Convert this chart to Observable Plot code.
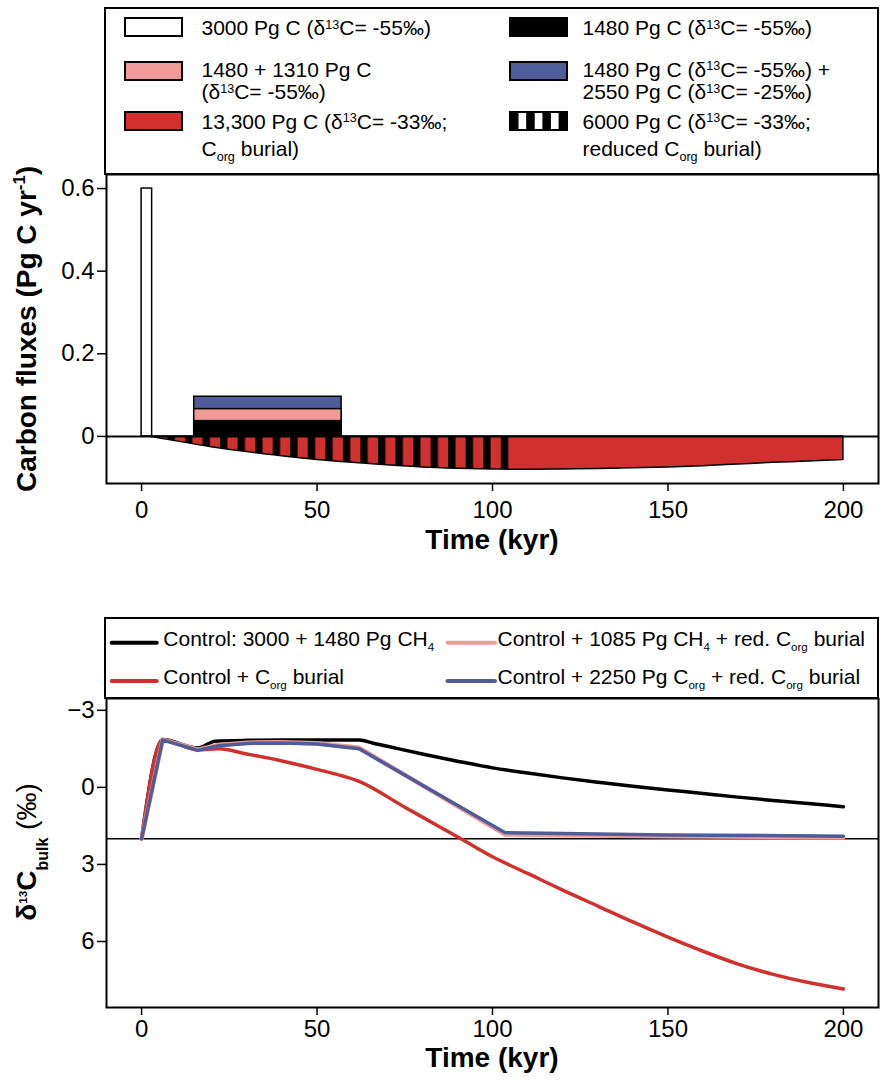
<!DOCTYPE html>
<html>
<head>
<meta charset="utf-8">
<script src="https://cdn.jsdelivr.net/npm/d3@7"></script>
<script src="https://cdn.jsdelivr.net/npm/@observablehq/plot@0.6"></script>
<style>
  body { margin: 0; background: #fff; }
  #wrap { position: relative; width: 883px; height: 1080px; overflow: hidden; background: #fff; }
  #wrap svg { position: absolute; left: 0; }
</style>
</head>
<body>
<div id="wrap"></div>
<script>
// ---------------- DATA ----------------
const xTicks = [0, 50, 100, 150, 200];

// Panel A: carbon fluxes (Pg C / yr) vs time (kyr)
const pulseStart = 0, pulseEnd = 3, pulseFlux = 0.6;           // 3000 Pg C pulse
const sustainedStart = 15, sustainedEnd = 57;                    // sustained release window
const sustainedLabels = ["1480 + 2550 Pg C", "1480 + 1310 Pg C", "1480 Pg C"];
const sustainedFlux = [0.096, 0.066, 0.037];
const burialTime = [2, 10, 20, 30, 40, 50, 60, 70, 80, 90, 100, 105, 110, 120, 130, 140, 150, 160, 170, 180, 190, 200];
const burialFlux = [0, -0.012, -0.026, -0.038, -0.048, -0.057, -0.064, -0.070, -0.075, -0.078, -0.080, -0.0805, -0.081, -0.080, -0.079, -0.077, -0.075, -0.072, -0.068, -0.064, -0.061, -0.057];
const reducedBurialEnd = 105;
const yTicksA = [0, 0.2, 0.4, 0.6];

// Panel B: bulk d13C (permil) vs time (kyr)
const controlT = [0, 6, 16, 21, 30, 40, 50, 62, 66, 70, 80, 90, 100, 110, 120, 130, 140, 150, 160, 170, 180, 190, 200];
const controlV = [2.0, -1.86, -1.53, -1.80, -1.83, -1.84, -1.84, -1.84, -1.72, -1.60, -1.30, -1.02, -0.76, -0.56, -0.37, -0.20, -0.04, 0.10, 0.24, 0.38, 0.51, 0.63, 0.75];
const burialT = [0, 6, 16, 22, 30, 40, 50, 62, 75, 85, 91, 100, 110, 120, 130, 140, 150, 160, 170, 180, 190, 200];
const burialV = [2.0, -1.85, -1.46, -1.50, -1.30, -1.03, -0.70, -0.23, 0.77, 1.54, 2.0, 2.7, 3.35, 4.0, 4.62, 5.24, 5.83, 6.38, 6.88, 7.28, 7.6, 7.85];
const ch4T = [0, 6, 16, 22, 30, 40, 50, 62, 103.5, 120, 150, 200];
const ch4V = [2.0, -1.86, -1.47, -1.65, -1.74, -1.76, -1.72, -1.54, 1.83, 1.86, 1.90, 1.94];
const corgT = [0, 6, 16, 22, 30, 40, 50, 62, 103.5, 120, 150, 200];
const corgV = [2.0, -1.85, -1.44, -1.62, -1.71, -1.73, -1.69, -1.50, 1.76, 1.80, 1.85, 1.90];
const initialD13C = 2;
const yTicksB = [-3, 0, 3, 6];

// Legend texts
const legendA = [
  ["3000 Pg C (δ^{13}C= -55‰)"],
  ["1480 + 1310 Pg C", "(δ^{13}C= -55‰)"],
  ["13,300 Pg C (δ^{13}C= -33‰;", "C_{org} burial)"],
  ["1480 Pg C (δ^{13}C= -55‰)"],
  ["1480 Pg C (δ^{13}C= -55‰) +", "2550 Pg C (δ^{13}C= -25‰)"],
  ["6000 Pg C (δ^{13}C= -33‰;", "reduced C_{org} burial)"]
];
const legendB = [
  "Control: 3000 + 1480 Pg CH_{4}",
  "Control + 1085 Pg CH_{4} + red. C_{org} burial",
  "Control + C_{org} burial",
  "Control + 2250 Pg C_{org} + red. C_{org} burial"
];

// ---------------- STYLE ----------------
const FONT = '"Liberation Sans", Arial, Helvetica, sans-serif';
const RED = "#d0312f", PINK = "#f09b99", BLUE = "#4f5c98", BLACK = "#000000";
const sustainedFill = [BLUE, PINK, BLACK];

const wrap = document.getElementById("wrap");

function rich(sel, str, opt = {}) {
  const supS = opt.supSize || 0.6, supR = opt.supRaise || 0.3;
  const subS = opt.subSize || 0.6, subL = opt.subLower || 0.25;
  const base = opt.size;
  const parts = str.split(/(\^\{[^}]*\}|_\{[^}]*\})/).filter(s => s.length);
  let cur = 0;
  for (const p of parts) {
    let txt = p, target = 0, size = base, weight = null;
    if (p.startsWith("^{")) { txt = p.slice(2, -1); target = -supR * base; size = supS * base; }
    else if (p.startsWith("_{")) { txt = p.slice(2, -1); target = subL * base; size = subS * base; }
    if (opt.regular && txt.includes(opt.regular)) weight = "normal";
    const ts = sel.append("tspan").attr("dy", target - cur).attr("font-size", size).text(txt);
    if (weight) ts.attr("font-weight", weight);
    cur = target;
  }
}

// ---------------- PANEL A ----------------
const burial = burialTime.map((t, i) => ({t, f: burialFlux[i]}));
const reduced = burial.filter(d => d.t <= reducedBurialEnd);
const pulse = [{t0: pulseStart, t1: pulseEnd, f: pulseFlux}];
const sustained = sustainedFlux.map((f, i) => ({t0: sustainedStart, t1: sustainedEnd, f, label: sustainedLabels[i], fill: sustainedFill[i]}));

const chartA = Plot.plot({
  width: 883, height: 575,
  marginTop: 174, marginBottom: 92, marginLeft: 106, marginRight: 5,
  style: {fontFamily: FONT, color: "black", background: "white"},
  x: {domain: [-10, 210]},
  y: {domain: [-0.114, 0.634]},
  marks: [
    Plot.areaY(burial, {x: "t", y: "f", fill: RED, stroke: "black", strokeWidth: 1.5, curve: "monotone-x"}),
    Plot.areaY(reduced, {x: "t", y: "f", fill: "url(#stripesA)", curve: "monotone-x"}),
    Plot.rectY(pulse, {x1: "t0", x2: "t1", y: "f", fill: "white", stroke: "black", strokeWidth: 1.5}),
    ...sustained.map(d => Plot.rectY([d], {x1: "t0", x2: "t1", y: "f", fill: d.fill, stroke: "black", strokeWidth: 1.5})),
    Plot.ruleY([0], {stroke: "black", strokeWidth: 2}),
    Plot.frame({stroke: "black", strokeWidth: 2}),
    Plot.axisX({ticks: xTicks, tickSize: 8, tickPadding: 9, fontSize: 24, label: null, strokeWidth: 1.5}),
    Plot.axisY({ticks: yTicksA, tickSize: 9, tickPadding: 3, fontSize: 24, label: null, strokeWidth: 1.5,
      tickFormat: d => d === 0 ? "0" : d.toFixed(1)})
  ]
});
chartA.style.top = "0px";
wrap.appendChild(chartA);

{
  const xs = chartA.scale("x");
  const per = xs.apply(5) - xs.apply(0);
  const svg = d3.select(chartA);
  const defs = svg.insert("defs", ":first-child");
  const pat = defs.append("pattern").attr("id", "stripesA").attr("patternUnits", "userSpaceOnUse")
    .attr("x", xs.apply(2.5)).attr("y", 0).attr("width", per).attr("height", 1200);
  pat.append("rect").attr("x", 0).attr("y", 0).attr("width", xs.apply(2.1) - xs.apply(0)).attr("height", 1200).attr("fill", "black");
  const patL = defs.append("pattern").attr("id", "stripesL").attr("patternUnits", "userSpaceOnUse")
    .attr("x", 510).attr("y", 0).attr("width", 16.2).attr("height", 200);
  patL.append("rect").attr("width", 16.2).attr("height", 200).attr("fill", "white");
  patL.append("rect").attr("width", 8.5).attr("height", 200).attr("fill", "black");

  // legend box
  const g = svg.append("g").attr("font-family", FONT).attr("fill", "black").attr("text-anchor", "start");
  g.append("rect").attr("x", 105).attr("y", 8).attr("width", 773).attr("height", 166)
    .attr("fill", "white").attr("stroke", "black").attr("stroke-width", 2);
  const swFill = ["white", PINK, RED, BLACK, BLUE, "url(#stripesL)"];
  const swX = [125, 125, 125, 510, 510, 510];
  const swY = [18, 62, 112, 18, 62, 112];
  const txX = [201.5, 201.5, 201.5, 582.5, 582.5, 582.5];
  const baseY = [[35], [76.5, 99], [128.5, 156], [35], [76.5, 99], [128.5, 156]];
  legendA.forEach((lines, i) => {
    g.append("rect").attr("x", swX[i]).attr("y", swY[i]).attr("width", 57).attr("height", 18)
      .attr("fill", swFill[i]).attr("stroke", "black").attr("stroke-width", 2);
    lines.forEach((ln, j) => {
      const t = g.append("text").attr("x", txX[i]).attr("y", baseY[i][j]).attr("font-size", 21).attr("text-anchor", "start");
      rich(t, ln, {size: 21});
    });
  });
  // axis titles
  const ty = g.append("text").attr("transform", "translate(36,329) rotate(-90)")
    .attr("text-anchor", "middle").attr("font-size", 28).attr("font-weight", "bold");
  rich(ty, "Carbon fluxes (Pg C yr^{-1})", {size: 28, supSize: 0.6, supRaise: 0.38});
  g.append("text").attr("x", 492).attr("y", 549).attr("text-anchor", "middle")
    .attr("font-size", 28).attr("font-weight", "bold").text("Time (kyr)");
}

// ---------------- PANEL B ----------------
const mk = (T, V) => T.map((t, i) => ({t, v: V[i]}));
const seriesB = [
  {data: mk(controlT, controlV), color: BLACK, w: 3.5, curve: "monotone-x"},
  {data: mk(burialT, burialV), color: RED, w: 3.5, curve: "monotone-x"},
  {data: mk(ch4T, ch4V), color: PINK, w: 4.5, curve: "linear"},
  {data: mk(corgT, corgV), color: BLUE, w: 3.5, curve: "linear"}
];

const chartB = Plot.plot({
  width: 883, height: 505,
  marginTop: 123, marginBottom: 73, marginLeft: 106, marginRight: 5,
  style: {fontFamily: FONT, color: "black", background: "white"},
  x: {domain: [-10, 210]},
  y: {domain: [-3.46, 8.57], reverse: true},
  marks: [
    Plot.ruleY([initialD13C], {stroke: "black", strokeWidth: 1.5}),
    ...seriesB.map(s => Plot.line(s.data, {x: "t", y: "v", stroke: s.color, strokeWidth: s.w, curve: s.curve, strokeLinecap: "round", strokeLinejoin: "round"})),
    Plot.frame({stroke: "black", strokeWidth: 2}),
    Plot.axisX({ticks: xTicks, tickSize: 8, tickPadding: 4, fontSize: 24, label: null, strokeWidth: 1.5}),
    Plot.axisY({ticks: yTicksB, tickSize: 9, tickPadding: 3, fontSize: 24, label: null, strokeWidth: 1.5})
  ]
});
chartB.style.top = "575px";
wrap.appendChild(chartB);

{
  const svg = d3.select(chartB);
  const g = svg.append("g").attr("font-family", FONT).attr("fill", "black").attr("text-anchor", "start");
  g.append("rect").attr("x", 105).attr("y", 43).attr("width", 773).attr("height", 80)
    .attr("fill", "white").attr("stroke", "black").attr("stroke-width", 2);
  const lnX = [111.7, 447.5, 111.7, 447.5];
  const lnW = [45, 47.5, 45, 47.5];
  const lnY = [67.7, 67.7, 106, 106];
  const txX = [163.3, 497.5, 163.3, 497.5];
  const colors = [BLACK, PINK, RED, BLUE];
  legendB.forEach((lab, i) => {
    g.append("line").attr("x1", lnX[i]).attr("x2", lnX[i] + lnW[i]).attr("y1", lnY[i]).attr("y2", lnY[i])
      .attr("stroke", colors[i]).attr("stroke-width", 4).attr("stroke-linecap", "round");
    const t = g.append("text").attr("x", txX[i]).attr("y", lnY[i] + 3).attr("font-size", 21).attr("text-anchor", "start");
    rich(t, lab, {size: 21, subSize: 0.55, subLower: 0.25});
  });
  const ty = g.append("text").attr("transform", "translate(36,277) rotate(-90)")
    .attr("text-anchor", "middle").attr("font-size", 28).attr("font-weight", "bold");
  rich(ty, "δ^{13}C_{bulk} (‰)", {size: 28, supSize: 0.42, supRaise: 0.33, subSize: 0.57, subLower: 0.42, regular: "‰"});
  g.append("text").attr("x", 492).attr("y", 492).attr("text-anchor", "middle")
    .attr("font-size", 28).attr("font-weight", "bold").text("Time (kyr)");
}
</script>
</body>
</html>
